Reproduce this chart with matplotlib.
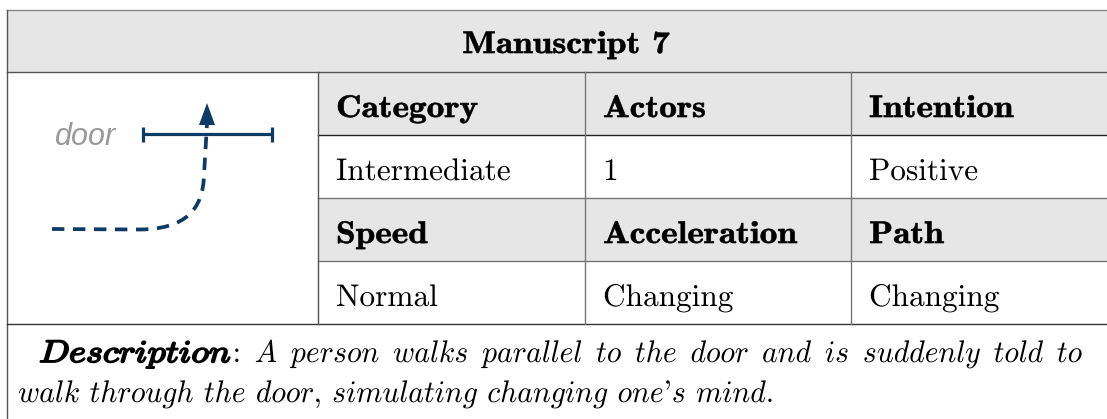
import matplotlib
matplotlib.use("Agg")
import matplotlib.pyplot as plt
from matplotlib.path import Path
from matplotlib.patches import PathPatch, Polygon, Rectangle
from matplotlib.textpath import TextPath, text_to_path
from matplotlib.font_manager import FontProperties
from matplotlib.transforms import Affine2D

# table content
title = "Manuscript 7"
head_row1 = ["Category", "Actors", "Intention"]
vals_row1 = ["Intermediate", "1", "Positive"]
head_row2 = ["Speed", "Acceleration", "Path"]
vals_row2 = ["Normal", "Changing", "Changing"]
desc_label = "Description"
desc_line1 = "A person walks parallel to the door and is suddenly told to"
desc_line2 = "walk through the door, simulating changing one's mind."
icon_label = "door"

W, H = 1107, 419
fig = plt.figure(figsize=(W / 100, H / 100), dpi=100)
ax = fig.add_axes([0, 0, 1, 1])
ax.set_xlim(0, W)
ax.set_ylim(H, 0)
ax.axis("off")

gray = "#e6e6e6"
navy = "#0e3b66"
fpx = 31.3  # font size in pixels (= data units here)


def run_width(s, fam):
    prop = FontProperties(family=fam, size=fpx)
    w, h, d = text_to_path.get_text_width_height_descent(s, prop, ismath=False)
    return w


def draw_run(s, x, y, fam, sx=1.0, stroke=0.0, ha="left"):
    """draw string s with baseline at y, optional x-stretch and stroke"""
    w = run_width(s, fam) * sx
    if ha == "center":
        x -= w / 2
    tp = TextPath((0, 0), s, size=fpx, prop=FontProperties(family=fam))
    tr = Affine2D().scale(sx, -1).translate(x, y) + ax.transData
    ax.add_patch(PathPatch(tp, transform=tr, facecolor="black",
                           edgecolor="black", lw=stroke))
    return w


def italic_runs(word):
    # letters in math italic, punctuation from the roman font
    runs, cur, cur_alpha = [], "", None
    for ch in word:
        a = ch.isalnum()
        if cur and a != cur_alpha:
            runs.append((cur, cur_alpha))
            cur = ""
        cur += ch
        cur_alpha = a
    if cur:
        runs.append((cur, cur_alpha))
    return runs


ital_sx = 0.95


def word_width(word, sx=ital_sx):
    return sum(run_width(r, "cmmi10" if a else "cmr10") * sx
               for r, a in italic_runs(word))


def draw_word(word, x, y, sx=ital_sx, stroke=0.0):
    for r, a in italic_runs(word):
        x += draw_run(r, x, y, "cmmi10" if a else "cmr10", sx=sx, stroke=stroke)
    return x


# grid geometry (pixels)
left, right = 7, 1125
top, head_bot = 10, 72
col_x = [318, 585, 851, right]
row_y = [72, 135, 198, 261, 324]

ax.add_patch(Rectangle((left, top), right - left, head_bot - top, color=gray, lw=0))
for r in (0, 2):
    ax.add_patch(Rectangle((col_x[0], row_y[r]), right - col_x[0],
                           row_y[r + 1] - row_y[r], color=gray, lw=0))

lw = 1.0
ax.plot([left, W], [top, top], color="#888888", lw=lw)
ax.plot([left, left], [top, H], color="#555555", lw=lw)
ax.plot([left, W], [head_bot, head_bot], color="#555555", lw=lw)
ax.plot([left, W], [row_y[4], row_y[4]], color="#333333", lw=lw)
ax.plot([col_x[0], W], [row_y[1], row_y[1]], color="#222222", lw=lw)
ax.plot([col_x[0], W], [row_y[2], row_y[2]], color="#777777", lw=lw)
ax.plot([col_x[0], W], [row_y[3], row_y[3]], color="#777777", lw=lw)
ax.plot([col_x[0], col_x[0]], [row_y[0], row_y[4]], color="#555555", lw=lw)
for cx in col_x[1:3]:
    ax.plot([cx, cx], [row_y[0], row_y[4]], color="#777777", lw=lw)

bold_sx, bold_stroke = 1.13, 0.45

# title
draw_run(title, (left + right) / 2, 53, "cmb10", sx=bold_sx, stroke=bold_stroke,
         ha="center")

# cells
rows = [(head_row1, True), (vals_row1, False), (head_row2, True), (vals_row2, False)]
for i, (texts, bold) in enumerate(rows):
    base = row_y[i] + 45
    for j, t in enumerate(texts):
        if bold:
            draw_run(t, col_x[j] + 18, base, "cmb10", sx=bold_sx, stroke=bold_stroke)
        else:
            draw_run(t, col_x[j] + 18, base, "cmr10")

# icon: door and path
ax.plot([143, 272], [134, 134], color=navy, lw=2.3, solid_capstyle="butt")
for ex in (143, 272):
    ax.plot([ex, ex], [127, 142], color=navy, lw=2.3, solid_capstyle="butt")
ax.text(55, 145, icon_label, family="Liberation Sans", style="italic",
        fontsize=22, color="#999999", ha="left", va="baseline")
verts = [(52, 229), (140, 229.5), (185, 229), (203, 210), (204, 175), (207, 124)]
codes = [Path.MOVETO, Path.LINETO, Path.CURVE4, Path.CURVE4, Path.CURVE4, Path.LINETO]
ax.add_patch(PathPatch(Path(verts, codes), fill=False, edgecolor=navy, lw=2.7,
                       linestyle=(0, (3.3, 2.3)), capstyle="butt"))
ax.add_patch(Polygon([(207, 103), (199, 125), (215, 125)], closed=True,
                     color=navy, lw=0))

# description: first line justified, second left aligned
x0, x1, y1, y2 = 39, 1080, 362, 402
lab_sx = 1.16
words1 = desc_line1.split()
lab_w = word_width(desc_label, lab_sx) + run_width(":", "cmr10") * ital_sx
ws = [word_width(w) for w in words1]
gap = (x1 - x0 - lab_w - sum(ws)) / len(words1)
x = draw_word(desc_label, x0, y1, sx=lab_sx, stroke=1.3)
x += draw_run(":", x + 2, y1, "cmr10", sx=ital_sx) + 2
for w, wd in zip(words1, ws):
    x += gap
    draw_word(w, x, y1)
    x += wd

space = 0.33 * fpx
x = 18
for w in desc_line2.split():
    x = draw_word(w, x, y2) + space

fig.savefig("out.png", dpi=100)
